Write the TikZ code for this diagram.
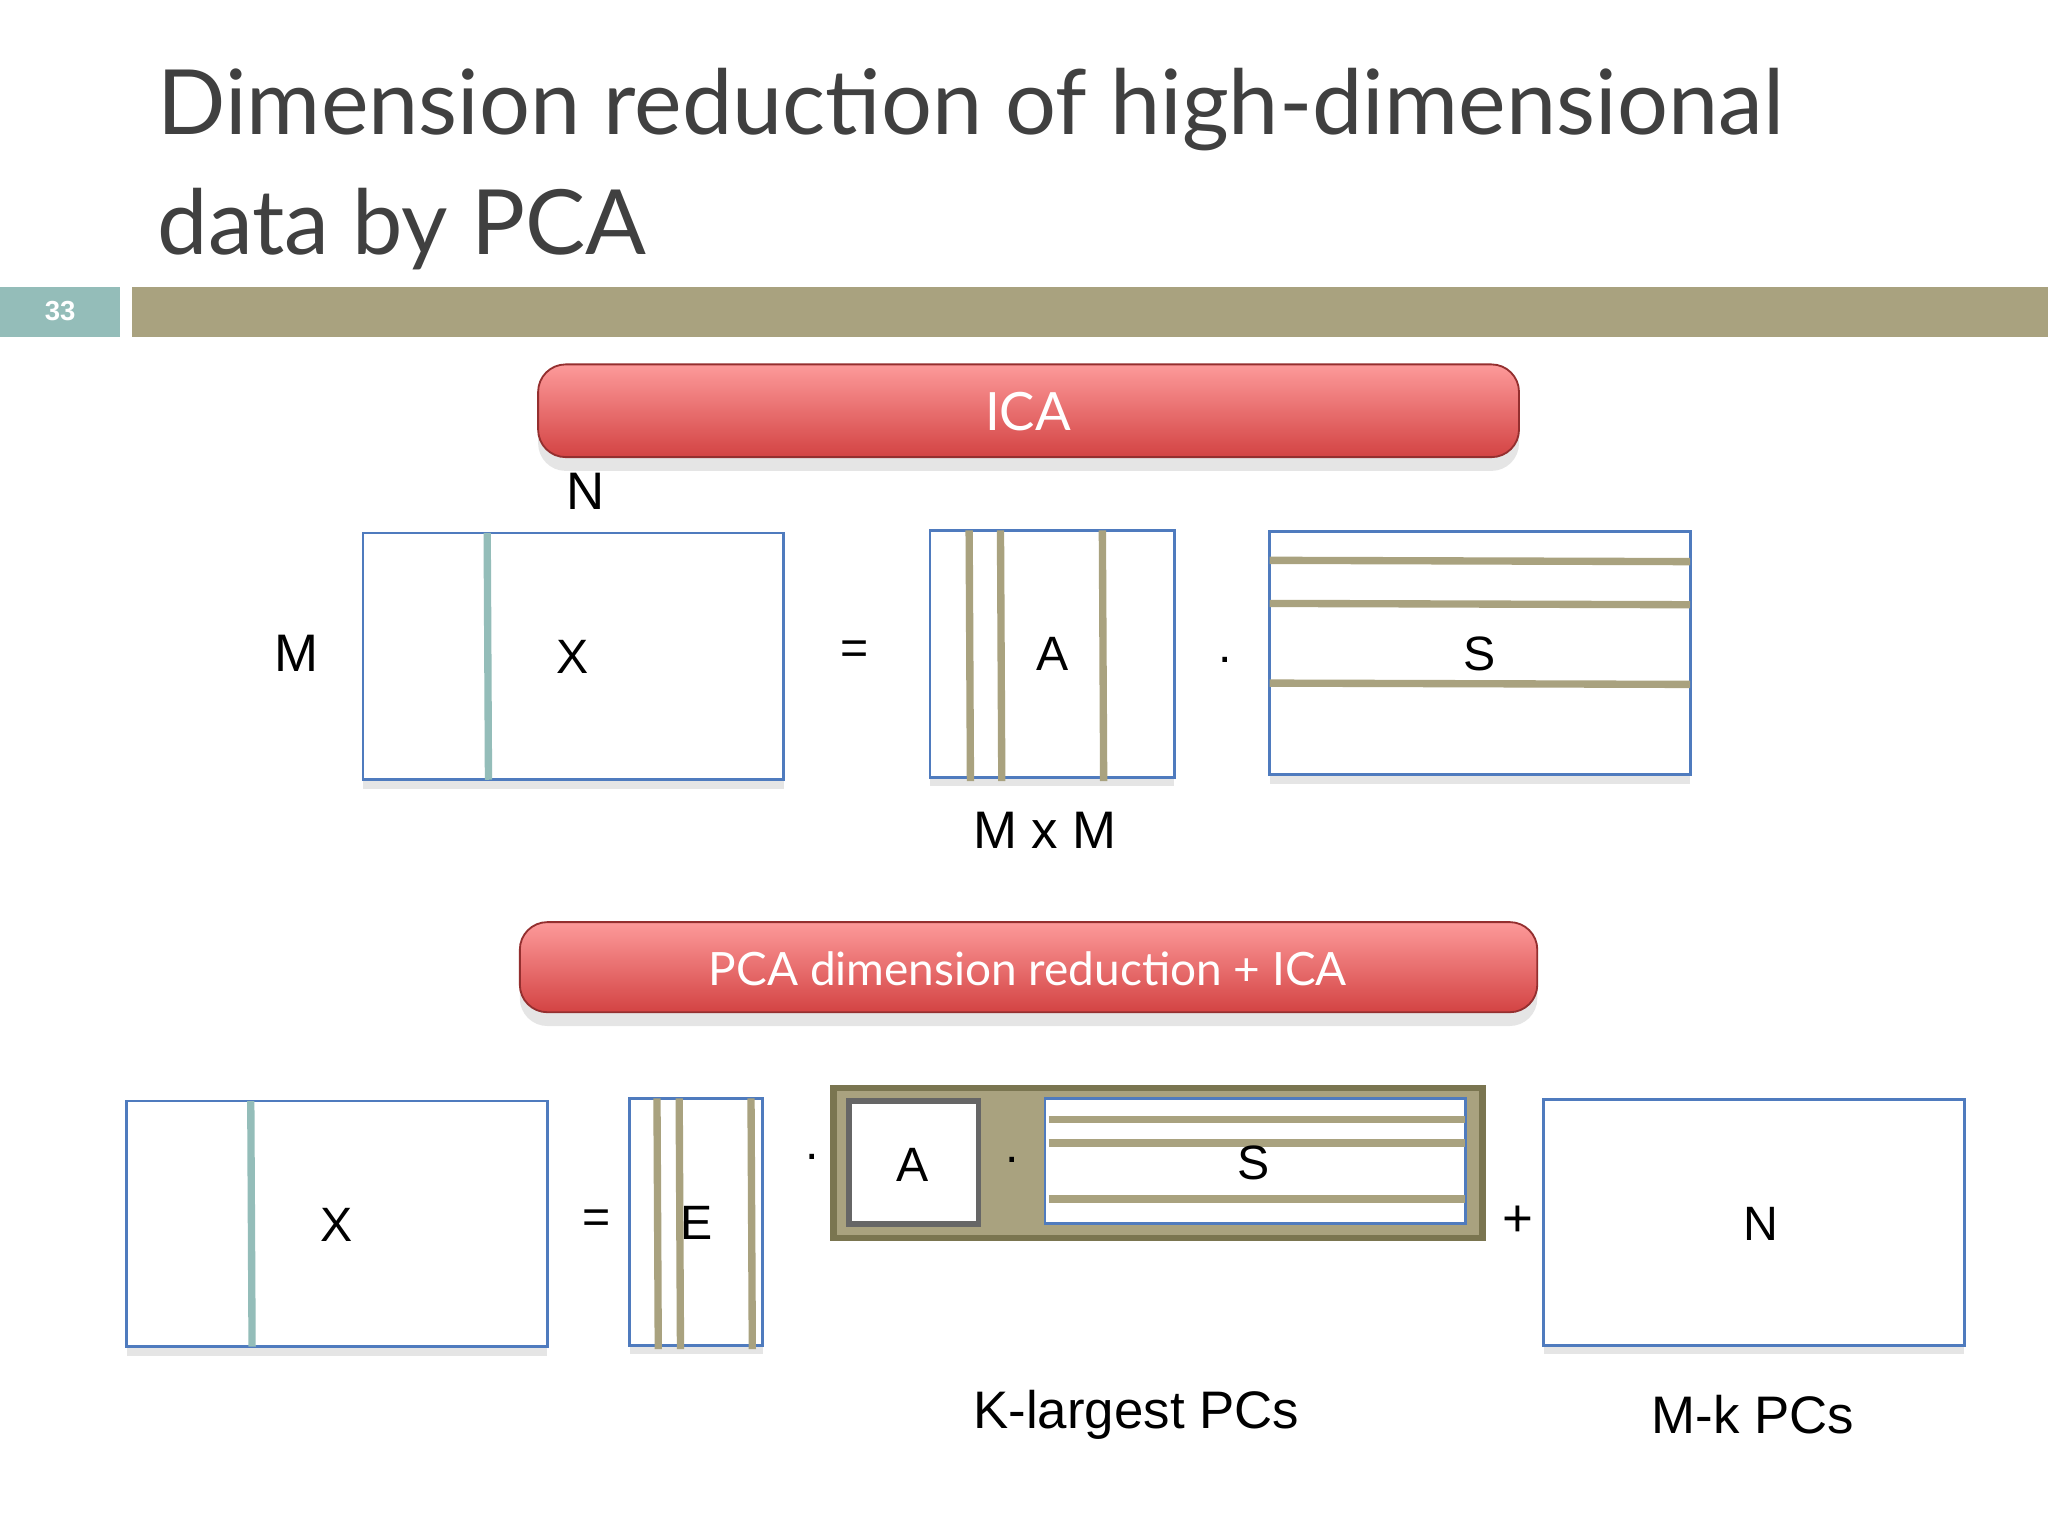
\documentclass[tikz,border=0pt]{standalone}
\usepackage{fontspec}
\setmainfont{Liberation Sans}
\newfontfamily\gill{Lato}
\usetikzlibrary{shadows}
\definecolor{olive}{HTML}{A9A27F}
\definecolor{oliveD}{HTML}{7A7550}
\definecolor{teal}{HTML}{94BDB9}
\definecolor{boxb}{HTML}{4F7BBE}
\definecolor{titlec}{HTML}{404040}
\definecolor{redT}{HTML}{FD9A9A}
\definecolor{redB}{HTML}{D34343}
\begin{document}
\begin{tikzpicture}[x=0.01cm,y=-0.01cm,
  mat/.style={draw=boxb,line width=0.6pt,fill=white,drop shadow={shadow xshift=0pt,shadow yshift=-2pt,opacity=0.2}},
  tl/.style={teal,line width=1.6pt},
  ol/.style={olive,line width=1.6pt},
  lab/.style={font=\fontsize{10.5}{13}\selectfont,inner sep=0pt},
  ban/.style={rounded corners=6pt,draw=redB!70!black,line width=0.4pt,top color=redT,bottom color=redB,drop shadow={shadow xshift=0pt,shadow yshift=-3pt,opacity=0.2}},
  bant/.style={text=white,font=\gill\fontsize{10}{12}\selectfont},
  big/.style={font=\fontsize{11.5}{14}\selectfont,inner sep=0pt}]
\useasboundingbox (0,0) rectangle (1568,1176);
\fill[white] (0,0) rectangle (1568,1176);
% title
\node[anchor=base west,inner sep=0pt,text=titlec,font=\gill\fontsize{19.6}{24}\selectfont] (t1) at (120,103) {Dimension reduction of high-dimensional};
\node[anchor=base west,inner sep=0pt,text=titlec,font=\gill\fontsize{19.6}{24}\selectfont] (t2) at (120,195) {data by PCA};
\fill[teal] (0,220) rectangle (92,258);
\node[text=white,font=\bfseries\fontsize{6}{7}\selectfont] (num) at (46,238) {33};
\fill[olive] (101,220) rectangle (1568,258);
% ICA section
\draw[ban] (412,279) rectangle (1163,350);
\node[bant,font=\gill\fontsize{11.5}{13}\selectfont] (ica) at (787,315) {ICA};
\node[big] (nN) at (448,376) {N};
\node[big] (nM) at (227,500) {M};
\draw[mat] (278,408) rectangle (600,597);
\draw[tl] (373,408) -- (374,597);
\node[lab] (x1) at (438,503) {X};
\node[lab] (eq1) at (654,500) {=};
\draw[mat] (712,406) rectangle (899,595);
\foreach \x in {742,766,844} \draw[ol] (\x,406) -- (\x+1,598);
\node[lab] (a1) at (806,501) {A};
\node[lab] (d1) at (938,505) {.};
\draw[mat] (972,407) rectangle (1294,593);
\foreach \y in {429,462,523} \draw[ol] (972,\y) -- (1294,\y+1);
\node[lab] (s1) at (1133,501) {S};
\node[big] (mxm) at (800,636) {M x M};
% PCA section
\draw[ban] (398,706) rectangle (1177,775);
\node[bant] (pca) at (787,742) {PCA dimension reduction + ICA};
\draw[mat] (97,843) rectangle (419,1031);
\draw[tl] (192,843) -- (193,1031);
\node[lab] (x2) at (258,938) {X};
\node[lab] (eq2) at (457,935) {=};
\draw[mat] (482,841) rectangle (584,1030);
\foreach \x in {503,520,575} \draw[ol] (\x,841) -- (\x+1,1033);
\node[lab] (e2) at (533,936) {E};
\node[lab] (d2) at (622,886) {.};
\draw[fill=olive,draw=oliveD,line width=1.4pt] (638,833) rectangle (1135,948);
\draw[fill=white,draw=darkgray!80,line width=1.2pt] (650,843) rectangle (749,937);
\node[lab] (a2) at (699,892) {A};
\node[lab] (d3) at (775,888) {.};
\draw[draw=boxb,fill=white,line width=0.6pt] (800,841) rectangle (1122,937);
\foreach \y in {857,875,918} \draw[ol] (803,\y) -- (1122,\y);
\node[lab] (s2) at (960,890) {S};
\node[big] (plus) at (1162,935) {+};
\draw[mat] (1182,842) rectangle (1504,1030);
\node[lab] (n2) at (1348,937) {N};
\node[big] (kl) at (870,1083) {K-largest PCs};
\node[big] (mk) at (1342,1083) {M-k PCs};
\end{tikzpicture}
\end{document}
